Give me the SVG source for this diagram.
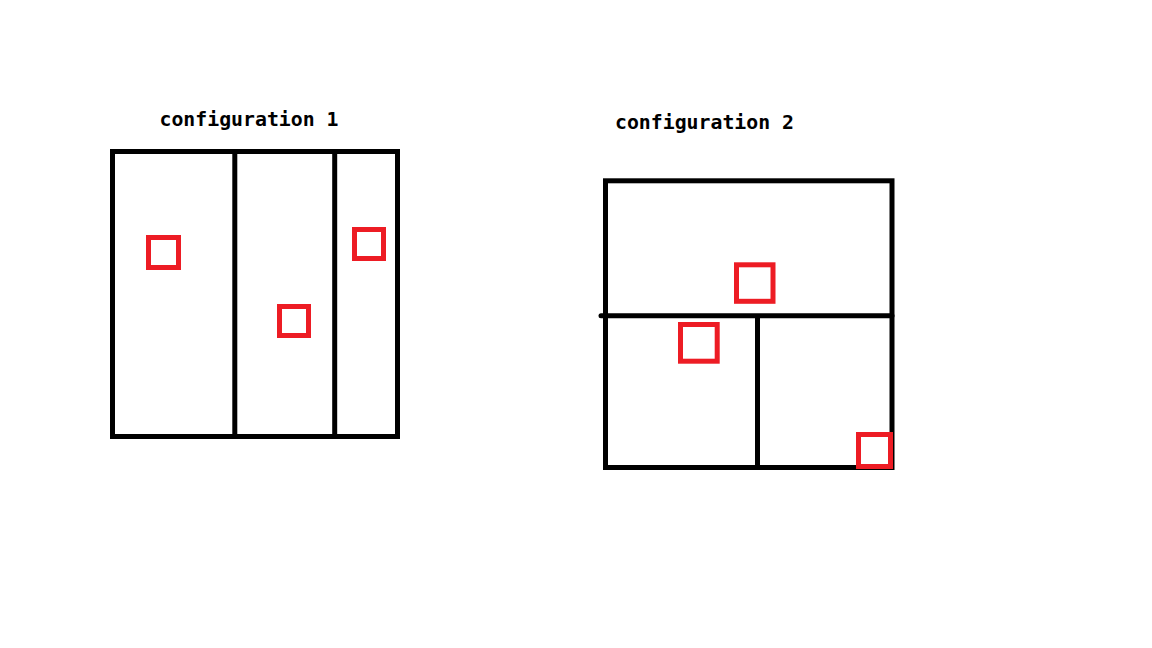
<svg xmlns="http://www.w3.org/2000/svg" width="1152" height="648" viewBox="0 0 1152 648">
  <style>
    .frame { fill: none; stroke: #000000; stroke-width: 5; }
    .div { stroke: #000000; stroke-width: 5; }
    .mark { fill: none; stroke: #ED1C24; stroke-width: 5; }
    .label { font-family: "DejaVu Sans Mono", "Liberation Mono", monospace; font-size: 19px; font-weight: bold; fill: #000000; }
  </style>
  <rect width="1152" height="648" fill="#ffffff"/>
  <g id="config1">
    <text class="label" x="159.5" y="126" textLength="179" lengthAdjust="spacingAndGlyphs">configuration 1</text>
    <rect class="frame" x="112.5" y="151.5" width="285" height="285"/>
    <line class="div" x1="234.8" y1="151.5" x2="234.8" y2="436.5"/>
    <line class="div" x1="334.7" y1="151.5" x2="334.7" y2="436.5"/>
    <rect class="mark" x="148.5" y="237.5" width="30" height="30"/>
    <rect class="mark" x="279.5" y="306.5" width="29" height="29"/>
    <rect class="mark" x="354.5" y="229.5" width="29" height="29"/>
  </g>
  <g id="config2">
    <text class="label" x="615" y="129.3" textLength="179" lengthAdjust="spacingAndGlyphs">configuration 2</text>
    <rect class="frame" x="605.5" y="180.8" width="286.5" height="286.7"/>
    <line class="div" x1="601" y1="315.8" x2="892" y2="315.8" stroke-linecap="round"/>
    <line class="div" x1="757.5" y1="315.8" x2="757.5" y2="467.5"/>
    <rect class="mark" x="736.5" y="264.8" width="36.5" height="36.5"/>
    <rect class="mark" x="680.5" y="324.5" width="36.7" height="36.7"/>
    <rect class="mark" x="858.5" y="434.5" width="32" height="32"/>
  </g>
</svg>
